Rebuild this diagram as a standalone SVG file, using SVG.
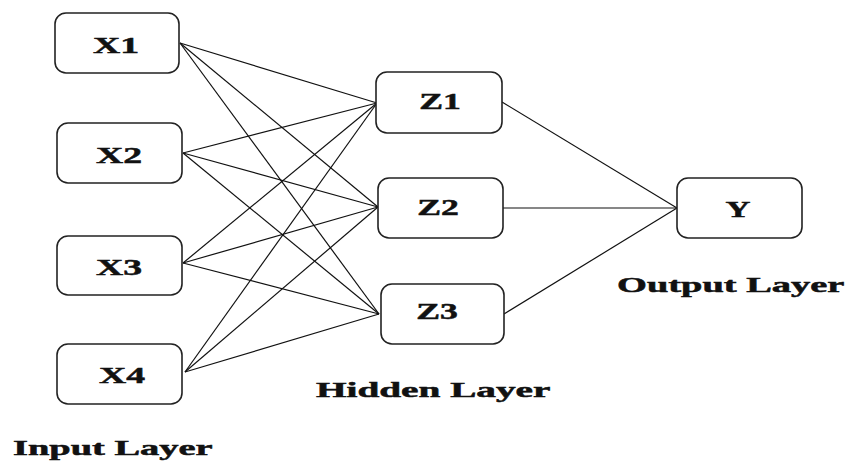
<svg xmlns="http://www.w3.org/2000/svg" width="848" height="462" viewBox="0 0 848 462">
<style>
.box{fill:#fff;stroke:#222;stroke-width:1.6}
.lbl{font-family:"Liberation Serif","Times New Roman",serif;font-weight:bold;font-size:23px;fill:#111;stroke:#111;stroke-width:0.5;text-anchor:middle}
.cap{font-family:"Liberation Serif","Times New Roman",serif;font-weight:bold;font-size:21px;fill:#111;stroke:#111;stroke-width:0.5}
.ln{stroke:#111;stroke-width:1.2;fill:none}
</style>
<rect width="848" height="462" fill="#fff"/>
<g id="connectors" class="ln">
<line x1="180" y1="43" x2="377" y2="103"/>
<line x1="180" y1="43" x2="378" y2="207"/>
<line x1="180" y1="43" x2="379" y2="314"/>
<line x1="183" y1="153" x2="377" y2="103"/>
<line x1="183" y1="153" x2="378" y2="207"/>
<line x1="183" y1="153" x2="379" y2="314"/>
<line x1="183" y1="263" x2="377" y2="103"/>
<line x1="183" y1="263" x2="378" y2="207"/>
<line x1="183" y1="263" x2="379" y2="314"/>
<line x1="185" y1="372" x2="377" y2="103"/>
<line x1="185" y1="372" x2="378" y2="207"/>
<line x1="185" y1="372" x2="379" y2="314"/>
<line x1="502" y1="102" x2="677" y2="208"/>
<line x1="503" y1="208" x2="677" y2="208"/>
<line x1="504" y1="314" x2="677" y2="208"/>
</g>
<g id="X1"><rect class="box" x="55" y="13" width="124" height="60" rx="11"/><text class="lbl" transform="translate(116,53) scale(1.64,1)">X1</text></g>
<g id="X2"><rect class="box" x="57" y="123" width="125" height="60" rx="11"/><text class="lbl" transform="translate(119,163) scale(1.64,1)">X2</text></g>
<g id="X3"><rect class="box" x="57" y="236" width="125" height="59" rx="11"/><text class="lbl" transform="translate(119,275) scale(1.64,1)">X3</text></g>
<g id="X4"><rect class="box" x="57" y="344" width="125" height="60" rx="11"/><text class="lbl" transform="translate(122,383) scale(1.64,1)">X4</text></g>
<g id="Z1"><rect class="box" x="376" y="72" width="126" height="61" rx="11"/><text class="lbl" transform="translate(440,109) scale(1.55,1)">Z1</text></g>
<g id="Z2"><rect class="box" x="378" y="178" width="125" height="60" rx="11"/><text class="lbl" transform="translate(438,215) scale(1.55,1)">Z2</text></g>
<g id="Z3"><rect class="box" x="381" y="284" width="123" height="60" rx="11"/><text class="lbl" transform="translate(437,319) scale(1.55,1)">Z3</text></g>
<g id="Y"><rect class="box" x="677" y="178" width="125" height="60" rx="11"/><text class="lbl" transform="translate(738,217) scale(1.5,1)">Y</text></g>
<text class="cap" transform="translate(13,455) scale(1.83,1)">Input Layer</text>
<text class="cap" transform="translate(316,397) scale(1.87,1)">Hidden Layer</text>
<text class="cap" transform="translate(617,292) scale(1.83,1)">Output Layer</text>
</svg>
